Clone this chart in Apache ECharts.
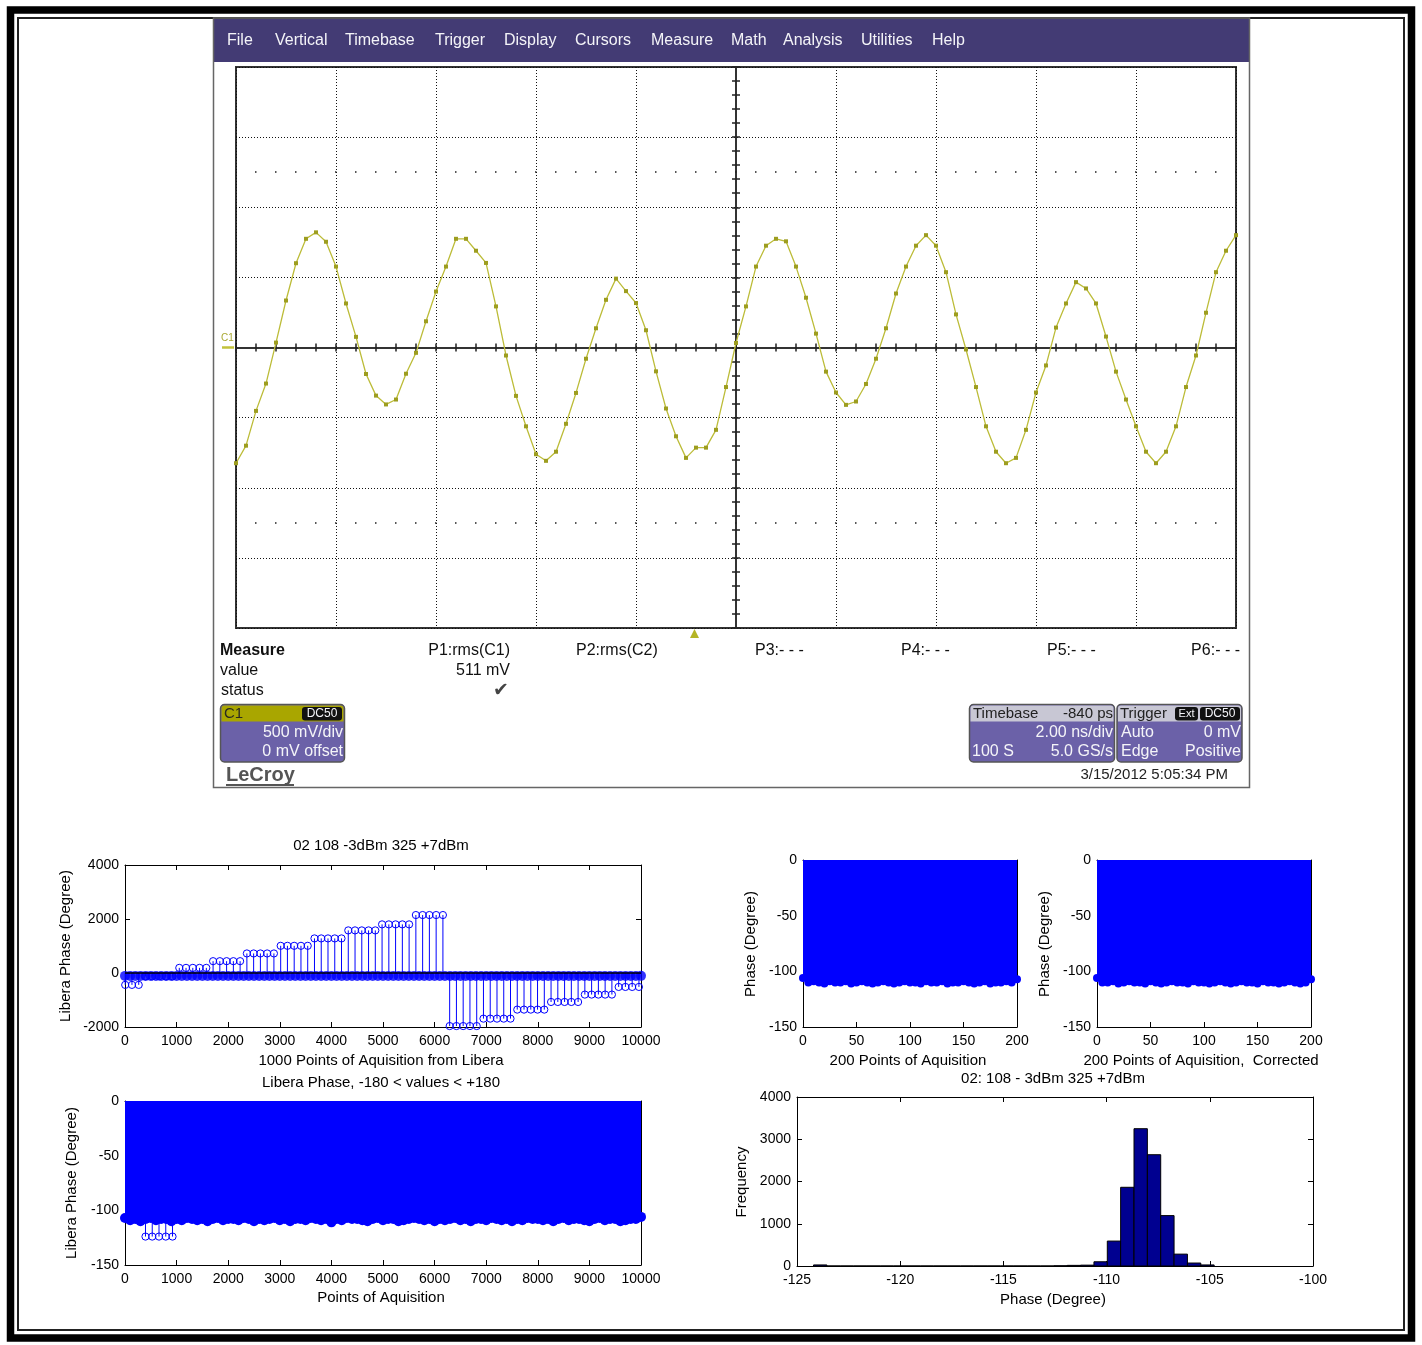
<!DOCTYPE html>
<html><head><meta charset="utf-8">
<script src="https://cdn.jsdelivr.net/npm/echarts@6/dist/echarts.min.js"></script>
<style>html,body{margin:0;padding:0;background:#fff}#c{width:1422px;height:1345px}</style>
</head><body><div id="c"></div>
<script>
// ================= DATA =================
// Oscilloscope channel C1 (mV), 5 GS/s -> one sample every 0.2 ns, screen -10..+10 ns
const scopeStartNs = -10;
const scopeSampleNs = 0.2;
const waveMv = [
 -825,-700,-452,-257,35,335,601,775,821,754,
 577,314,76,-189,-343,-406,-371,-187,-38,187,
 399,577,775,775,690,603,293,-57,-345,-562,
 -761,-808,-743,-544,-324,-80,137,340,491,402,
 317,123,-170,-435,-633,-787,-714,-714,-587,-282,
 32,293,577,726,775,757,577,355,99,-172,
 -321,-409,-385,-260,-80,137,385,577,726,801,
 726,537,236,-14,-282,-562,-743,-825,-787,-587,
 -321,-128,142,314,466,421,314,78,-172,-371,
 -562,-743,-825,-743,-562,-282,-57,248,537,690,
 801];

// Libera phase, 10000 acquisitions (shown every 100th point for the dense band)
const libStep = 100;
const libPhase = [
 -107,-109,-108,-110,-108,-107,-109,-108,-108,-110,
 -108,-109,-107,-108,-109,-108,-110,-108,-107,-109,
 -108,-108,-109,-107,-108,-110,-108,-109,-108,-107,
 -109,-108,-110,-108,-108,-109,-107,-108,-109,-108,
 -111,-108,-109,-107,-108,-108,-109,-110,-108,-107,
 -109,-108,-108,-110,-109,-108,-107,-108,-109,-108,
 -110,-108,-109,-108,-107,-109,-108,-110,-108,-108,
 -109,-107,-108,-109,-108,-110,-108,-109,-107,-108,
 -108,-109,-108,-110,-108,-107,-109,-108,-108,-109,
 -110,-108,-107,-109,-108,-108,-110,-109,-108,-108,
 -106];

// Outlier acquisitions (stems) in the unwrapped plot
const jumpIdx = [4,135,266,397,528,659,790,921,1052,1183,1314,1445,1576,1707,1838,1969,2100,2231,
 2362,2493,2624,2755,2886,3017,3148,3279,3410,3541,3672,3803,3934,4065,4196,4327,4458,4589,4720,4851,
 4982,5113,5244,5375,5506,5637,5768,5899,6030,6161,6292,6423,6554,6685,6816,6947,7078,7209,7340,7471,
 7602,7733,7864,7995,8126,8257,8388,8519,8650,8781,8912,9043,9174,9305,9436,9567,9698,9829,9960];
const jumpPhase = [-440,-440,-440,-124,-124,-124,-124,-124,190,190,190,190,190,438,438,438,438,438,
 724,724,724,724,724,1007,1007,1007,1007,1007,1281,1281,1281,1281,1281,1578,1578,1578,1578,1578,
 1801,1801,1801,1801,1801,2147,2147,2147,2147,2147,-1965,-1965,-1965,-1965,-1965,-1690,-1690,-1690,-1690,-1690,
 -1356,-1356,-1356,-1356,-1356,-1073,-1073,-1073,-1073,-1073,-799,-799,-799,-799,-799,-516,-516,-516,-516];

// Outliers remaining in the wrapped (-180..180) plot
const wrapIdx = [397,528,659,790,921];
const wrapPhase = [-124,-124,-124,-124,-124];

// 200 points of acquisition (every 5th point)
const ptStep = 5;
const phaseRaw = [
 -106,-110,-109,-110,-111,-109,-110,-110,-109,-111,
 -110,-109,-110,-111,-110,-109,-110,-111,-110,-109,
 -110,-110,-111,-109,-110,-110,-109,-111,-110,-110,
 -109,-110,-111,-110,-109,-111,-110,-110,-109,-110,
 -107];
const phaseCorr = [
 -106,-110,-110,-109,-111,-110,-109,-110,-110,-111,
 -109,-110,-111,-110,-109,-110,-110,-111,-109,-110,
 -110,-111,-110,-109,-110,-111,-110,-109,-110,-110,
 -111,-109,-110,-110,-111,-110,-109,-110,-111,-110,
 -107];

// Histogram of phase (30 bins)
const histStart = -124.2;
const histWidth = 0.647;
const histCounts = [25,0,0,0,0,0,0,0,0,0,0,0,0,0,0,0,0,0,5,15,20,100,590,1863,3250,2634,1193,281,70,25];

// ================= CHART =================
const F = '"Liberation Sans", Arial, sans-serif';
const BLUE = '#0000ff';

function mx(grid, min, max, interval, pos, lab) {
  return {type:'value', gridIndex:grid, min, max, interval, position:pos,
    axisLine:{show:true, onZero:false, lineStyle:{color:'#000', width:1}},
    axisTick:{show:true, inside:true, length:5, lineStyle:{color:'#000', width:1}},
    axisLabel:{show:lab, color:'#000', fontSize:14, fontFamily:F, margin:7, showMinLabel:true, showMaxLabel:true, formatter:v=>String(v)},
    splitLine:{show:false}};
}
function my(grid, min, max, interval, pos, lab) {
  const a = mx(grid, min, max, interval, pos, lab);
  a.axisLabel.margin = 6;
  return a;
}
function scopeAx(min, max, interval, grid, inside) {
  return {type:'value', gridIndex:0, min, max, interval,
    axisLine:{show:true, onZero:true, onZeroAxisIndex:0, lineStyle:{color:'#333', width:2}},
    axisTick:{show:true, inside, length:4, lineStyle:{color:'#222', width:1.5}},
    axisLabel:{show:false}, splitLine:{show:false}};
}
function stemRender(r) {
  return function(params, api) {
    const x = api.value(0), v = api.value(1);
    const p0 = api.coord([x, 0]), p1 = api.coord([x, v]);
    return {type:'group', children:[
      {type:'line', shape:{x1:p0[0], y1:p0[1], x2:p1[0], y2:p1[1]}, style:{stroke:BLUE, lineWidth:1}},
      {type:'circle', shape:{cx:p1[0], cy:p1[1], r}, style:{fill:'none', stroke:BLUE, lineWidth:1}}
    ]};
  };
}
function T(x, y, text, o) {
  o = o || {};
  const font = (o.weight || 'normal') + ' ' + (o.size || 15) + 'px ' + (o.family || F);
  return {type:'text', x, y, rotation:o.rot || 0, z:100,
    style:{text, fill:o.color || '#000', font, align:o.align || 'left', verticalAlign:'middle',
      textAlign:o.align || 'left', textVerticalAlign:'middle'}};
}
function R(x, y, w, h, o) {
  return {type:'rect', z:o.z || 90, shape:{x, y, width:w, height:h, r:o.r || 0},
    style:{fill:o.fill || 'none', stroke:o.stroke || null, lineWidth:o.lw || 1}};
}
function L(x1, y1, x2, y2, color, lw) {
  return {type:'line', z:95, shape:{x1, y1, x2, y2}, style:{stroke:color, lineWidth:lw}};
}

const menu = [['File',227],['Vertical',275],['Timebase',345],['Trigger',435],['Display',504],
  ['Cursors',575],['Measure',651],['Math',731],['Analysis',783],['Utilities',861],['Help',932]];
const PURPLE = '#6b61a8', STRIP = '#c8c7d4', WH = '#f4f4f8';

const graphics = [
  // outer frames
  R(10.5, 10, 1401, 1328, {stroke:'#000', lw:7.5}),
  R(18, 18, 1386, 1312, {stroke:'#222', lw:2}),
  // scope screen
  R(214, 18, 1036, 44, {fill:'#433b74', z:80}),
  R(213.5, 18, 1036, 769.5, {stroke:'#666', lw:1.5}),
  ...menu.map(m => T(m[1], 40.5, m[0], {size:16, color:WH})),
  T(221, 338, 'C1', {size:10, color:'#a8a830'}),
  L(222, 347.5, 234, 347.5, '#c2c23a', 2.5),
  {type:'polygon', z:95, shape:{points:[[690,638],[699,638],[694.5,629]]}, style:{fill:'#b5b525'}},
  // measure table
  T(220, 651, 'Measure', {weight:'bold', size:16, color:'#111'}),
  T(220, 671, 'value', {size:16, color:'#111'}),
  T(221, 691, 'status', {size:16, color:'#111'}),
  T(510, 651, 'P1:rms(C1)', {align:'right', size:16, color:'#111'}),
  T(510, 671, '511 mV', {align:'right', size:16, color:'#111'}),
  T(501, 691, '\u2714', {align:'center', size:19, color:'#444', family:'"DejaVu Sans"'}),
  T(576, 651, 'P2:rms(C2)', {size:16, color:'#111'}),
  T(755, 651, 'P3:- - -', {size:16, color:'#111'}),
  T(901, 651, 'P4:- - -', {size:16, color:'#111'}),
  T(1047, 651, 'P5:- - -', {size:16, color:'#111'}),
  T(1240, 651, 'P6:- - -', {align:'right', size:16, color:'#111'}),
  // C1 box
  R(220.5, 704.5, 124, 57.5, {fill:PURPLE, stroke:'#555', lw:1.5, r:4}),
  R(221.5, 705.5, 122, 16, {fill:'#a9a600', r:[3,3,0,0]}),
  T(224, 714, 'C1', {size:15, color:'#2a2a20'}),
  R(302, 707, 40, 13.5, {fill:'#111', r:3, z:92}),
  T(322, 714, 'DC50', {size:12, color:WH, align:'center'}),
  T(343, 733, '500 mV/div', {size:16, color:WH, align:'right'}),
  T(343, 752, '0 mV offset', {size:16, color:WH, align:'right'}),
  T(226, 775, 'LeCroy', {size:20, weight:'bold', color:'#555'}),
  L(226, 785, 294, 785, '#555', 2),
  // Timebase box
  R(969.5, 704.5, 145, 57.5, {fill:PURPLE, stroke:'#555', lw:1.5, r:4}),
  R(970.5, 705.5, 143, 16, {fill:STRIP, r:[3,3,0,0]}),
  T(973, 714, 'Timebase', {size:15, color:'#222'}),
  T(1113, 714, '-840 ps', {size:15, color:'#222', align:'right'}),
  T(1113, 733, '2.00 ns/div', {size:16, color:WH, align:'right'}),
  T(972, 752, '100 S', {size:16, color:WH}),
  T(1113, 752, '5.0 GS/s', {size:16, color:WH, align:'right'}),
  // Trigger box
  R(1117, 704.5, 125, 57.5, {fill:PURPLE, stroke:'#555', lw:1.5, r:4}),
  R(1118, 705.5, 123, 16, {fill:STRIP, r:[3,3,0,0]}),
  T(1120, 714, 'Trigger', {size:15, color:'#222'}),
  R(1175, 707, 23, 13.5, {fill:'#111', r:3, z:92}),
  T(1186.5, 714, 'Ext', {size:11, color:WH, align:'center'}),
  R(1200, 707, 40, 13.5, {fill:'#111', r:3, z:92}),
  T(1220, 714, 'DC50', {size:12, color:WH, align:'center'}),
  T(1121, 733, 'Auto', {size:16, color:WH}),
  T(1241, 733, '0 mV', {size:16, color:WH, align:'right'}),
  T(1121, 752, 'Edge', {size:16, color:WH}),
  T(1241, 752, 'Positive', {size:16, color:WH, align:'right'}),
  T(1228, 775, '3/15/2012 5:05:34 PM', {size:15, color:'#222', align:'right'}),
  // MATLAB plot texts
  T(381, 846, '02 108 -3dBm 325 +7dBm', {align:'center'}),
  T(381, 1061, '1000 Points of Aquisition from Libera', {align:'center'}),
  T(66, 946, 'Libera Phase (Degree)', {align:'center', rot:Math.PI/2}),
  T(381, 1083, 'Libera Phase, -180 < values < +180', {align:'center'}),
  T(381, 1298, 'Points of Aquisition', {align:'center'}),
  T(72, 1183, 'Libera Phase (Degree)', {align:'center', rot:Math.PI/2}),
  T(751, 944, 'Phase (Degree)', {align:'center', rot:Math.PI/2}),
  T(908, 1061, '200 Points of Aquisition', {align:'center'}),
  T(1045, 944, 'Phase (Degree)', {align:'center', rot:Math.PI/2}),
  T(1201, 1061, '200 Points of Aquisition,  Corrected', {align:'center'}),
  T(1053, 1079, '02: 108 - 3dBm 325 +7dBm', {align:'center'}),
  T(1053, 1300, 'Phase (Degree)', {align:'center'}),
  T(742, 1182, 'Frequency', {align:'center', rot:Math.PI/2})
];

const dotted = {show:true, lineStyle:{color:'#111', width:1, type:[1,2]}};

const option = {
  animation:false,
  backgroundColor:'#fff',
  grid:[
    {left:236, top:67, width:1000, height:561, show:true, borderColor:'#333', borderWidth:2},
    {left:125, top:865, width:516, height:162},
    {left:125, top:1101, width:516, height:164},
    {left:803, top:860, width:214, height:167},
    {left:1097, top:860, width:214, height:167},
    {left:797, top:1097, width:516, height:169}
  ],
  xAxis:[
    {type:'value', gridIndex:0, min:-10, max:10, interval:2, axisLine:{show:false}, axisTick:{show:false}, axisLabel:{show:false}, splitLine:dotted},
    scopeAx(-10, 10, 0.4, 0, true),
    scopeAx(-10, 10, 0.4, 0, false),
    mx(1, 0, 10000, 1000, 'bottom', true), mx(1, 0, 10000, 1000, 'top', false),
    mx(2, 0, 10000, 1000, 'bottom', true), mx(2, 0, 10000, 1000, 'top', false),
    mx(3, 0, 200, 50, 'bottom', true), mx(3, 0, 200, 50, 'top', false),
    mx(4, 0, 200, 50, 'bottom', true), mx(4, 0, 200, 50, 'top', false),
    mx(5, -125, -100, 5, 'bottom', true), mx(5, -125, -100, 5, 'top', false)
  ],
  yAxis:[
    {type:'value', gridIndex:0, min:-2000, max:2000, interval:500, axisLine:{show:false}, axisTick:{show:false}, axisLabel:{show:false}, splitLine:dotted},
    scopeAx(-2000, 2000, 100, 0, true),
    scopeAx(-2000, 2000, 100, 0, false),
    my(1, -2000, 4000, 2000, 'left', true), my(1, -2000, 4000, 2000, 'right', false),
    my(2, -150, 0, 50, 'left', true), my(2, -150, 0, 50, 'right', false),
    my(3, -150, 0, 50, 'left', true), my(3, -150, 0, 50, 'right', false),
    my(4, -150, 0, 50, 'left', true), my(4, -150, 0, 50, 'right', false),
    my(5, 0, 4000, 1000, 'left', true), my(5, 0, 4000, 1000, 'right', false)
  ],
  series:[
    {type:'line', xAxisIndex:0, yAxisIndex:0, z:5,
      data: waveMv.map((v, i) => [scopeStartNs + i * scopeSampleNs, v]),
      symbol:'rect', symbolSize:4, itemStyle:{color:'#9d9d1f'},
      lineStyle:{color:'#bcbc38', width:1.3},
      markLine:{silent:true, symbol:'none', label:{show:false},
        lineStyle:{color:'#222', width:1.5, type:[1.5,18.5], dashOffset:1},
        data:[{yAxis:1250}, {yAxis:-1250}]}},
    {type:'scatter', xAxisIndex:3, yAxisIndex:3, z:2,
      data: libPhase.map((v, i) => [i * libStep, v]),
      symbol:'circle', symbolSize:10, itemStyle:{color:BLUE}},
    {type:'custom', xAxisIndex:3, yAxisIndex:3, z:3,
      data: jumpIdx.map((x, i) => [x, jumpPhase[i]]),
      renderItem: stemRender(3.6),
      markLine:{silent:true, symbol:'none', label:{show:false}, lineStyle:{color:'#000', width:1.5, type:'solid'}, data:[{yAxis:0}]}},
    {type:'line', xAxisIndex:5, yAxisIndex:5, z:2,
      data: libPhase.map((v, i) => [i * libStep, v]),
      symbol:'circle', symbolSize:10, itemStyle:{color:BLUE},
      lineStyle:{color:BLUE, width:1}, areaStyle:{color:BLUE, opacity:1, origin:'end'}},
    {type:'custom', xAxisIndex:5, yAxisIndex:5, z:3,
      data: wrapIdx.map((x, i) => [x, wrapPhase[i]]),
      renderItem: stemRender(3.6)},
    {type:'line', xAxisIndex:7, yAxisIndex:7, z:2,
      data: phaseRaw.map((v, i) => [i * ptStep, v]),
      symbol:'circle', symbolSize:8, itemStyle:{color:BLUE},
      lineStyle:{color:BLUE, width:1}, areaStyle:{color:BLUE, opacity:1, origin:'end'}},
    {type:'line', xAxisIndex:9, yAxisIndex:9, z:2,
      data: phaseCorr.map((v, i) => [i * ptStep, v]),
      symbol:'circle', symbolSize:8, itemStyle:{color:BLUE},
      lineStyle:{color:BLUE, width:1}, areaStyle:{color:BLUE, opacity:1, origin:'end'}},
    {type:'custom', xAxisIndex:11, yAxisIndex:11, z:2,
      data: histCounts.map((c, i) => [histStart + i * histWidth, histStart + (i + 1) * histWidth, c]),
      encode:{x:[0,1], y:2},
      renderItem: function(params, api) {
        const p0 = api.coord([api.value(0), api.value(2)]);
        const p1 = api.coord([api.value(1), 0]);
        return {type:'rect', shape:{x:p0[0], y:p0[1], width:p1[0]-p0[0], height:p1[1]-p0[1]},
          style:{fill:'#000090', stroke:'#000', lineWidth:1}};
      }}
  ],
  graphic:{elements:graphics}
};

const chart = echarts.init(document.getElementById('c'), null, {renderer:'canvas'});
chart.setOption(option);
</script>
</body></html>
